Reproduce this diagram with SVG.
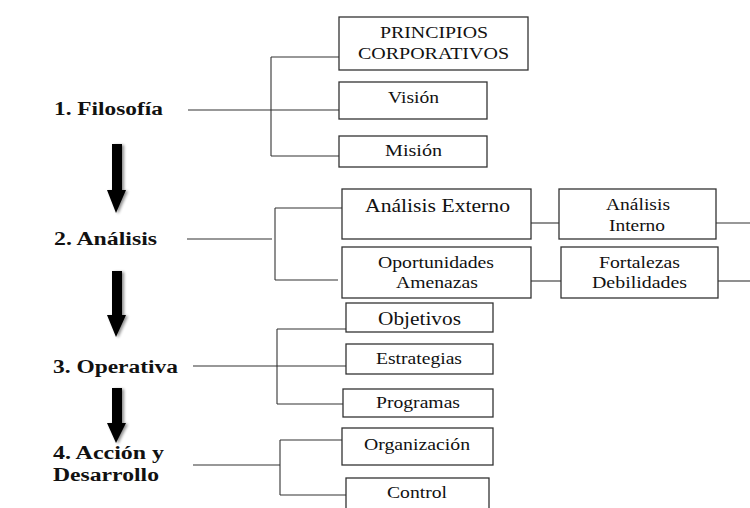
<svg xmlns="http://www.w3.org/2000/svg" width="750" height="508" viewBox="0 0 750 508">
<style>
text{fill:#111}
.lbl{font-weight:bold;font-size:18px}
.bx{font-size:16px}
.big{font-size:19px}
rect{fill:#fff;stroke:#333;stroke-width:1.3}
.con line{stroke:#333;stroke-width:1.1}
.arr{fill:#000}
</style>
<defs>
<filter id="sh" x="-50%" y="-20%" width="200%" height="150%">
<feGaussianBlur in="SourceAlpha" stdDeviation="1.5"/>
<feOffset dx="2" dy="1" result="b"/>
<feComponentTransfer><feFuncA type="linear" slope="0.45"/></feComponentTransfer>
<feMerge><feMergeNode/><feMergeNode in="SourceGraphic"/></feMerge>
</filter>
</defs>
<rect x="0" y="0" width="750" height="508" style="fill:#fff;stroke:none"/>

<g class="con" id="connectors">
<line x1="188" y1="110" x2="340" y2="110"/>
<line x1="271" y1="57" x2="271" y2="156"/>
<line x1="271" y1="57" x2="340" y2="57"/>
<line x1="271" y1="156" x2="340" y2="156"/>

<line x1="187" y1="239" x2="272" y2="239"/>
<line x1="275" y1="208" x2="275" y2="280"/>
<line x1="275" y1="208" x2="342" y2="208"/>
<line x1="275" y1="280" x2="338" y2="280"/>
<line x1="528" y1="223" x2="559" y2="223"/>
<line x1="716" y1="223" x2="750" y2="223"/>
<line x1="529" y1="281" x2="561" y2="281"/>
<line x1="718" y1="281" x2="750" y2="281"/>

<line x1="193" y1="366" x2="346" y2="366"/>
<line x1="277" y1="329" x2="277" y2="404"/>
<line x1="277" y1="329" x2="346" y2="329"/>
<line x1="277" y1="404" x2="343" y2="404"/>

<line x1="193" y1="465" x2="280" y2="465"/>
<line x1="280" y1="440" x2="280" y2="495"/>
<line x1="280" y1="440" x2="342" y2="440"/>
<line x1="280" y1="495" x2="346" y2="495"/>
</g>

<g id="arrows" class="arr" filter="url(#sh)">
<polygon points="112,144 122,144 122,190 126,190 116,213 107,190 112,190"/>
<polygon points="112,271 122,271 122,315 126,315 116,337 107,315 112,315"/>
<polygon points="112,388 122,388 122,423 126,423 116,443 107,423 112,423"/>
</g>

<g font-family="'Liberation Serif', 'Times New Roman', serif">
<g id="filosofia"><text class="lbl" x="54" y="115" textLength="109" lengthAdjust="spacingAndGlyphs">1. Filosofía</text></g>
<g id="analisis"><text class="lbl" x="54" y="245" textLength="103" lengthAdjust="spacingAndGlyphs">2. Análisis</text></g>
<g id="operativa"><text class="lbl" x="53" y="373" textLength="125" lengthAdjust="spacingAndGlyphs">3. Operativa</text></g>
<g id="accion"><text class="lbl" x="53" y="459" textLength="111" lengthAdjust="spacingAndGlyphs">4. Acción y</text><text class="lbl" x="53" y="481" textLength="106" lengthAdjust="spacingAndGlyphs">Desarrollo</text></g>

<g id="principios"><rect x="339" y="17" width="189" height="53"/>
<text class="bx" x="380" y="38" textLength="108" lengthAdjust="spacingAndGlyphs">PRINCIPIOS</text>
<text class="bx" x="358" y="59" textLength="151" lengthAdjust="spacingAndGlyphs">CORPORATIVOS</text></g>
<g id="vision"><rect x="339" y="82" width="148" height="37"/>
<text class="bx" x="388" y="103" textLength="51" lengthAdjust="spacingAndGlyphs">Visión</text></g>
<g id="mision"><rect x="339" y="136" width="148" height="31"/>
<text class="bx" x="385" y="156" textLength="57" lengthAdjust="spacingAndGlyphs">Misión</text></g>

<g id="externo"><rect x="342" y="189" width="189" height="50"/>
<text class="big" x="365" y="212" textLength="145" lengthAdjust="spacingAndGlyphs">Análisis Externo</text></g>
<g id="interno"><rect x="559" y="189" width="157" height="50"/>
<text class="bx" x="606" y="210" textLength="64" lengthAdjust="spacingAndGlyphs">Análisis</text>
<text class="bx" x="609" y="231" textLength="56" lengthAdjust="spacingAndGlyphs">Interno</text></g>
<g id="oportunidades"><rect x="342" y="247" width="189" height="51"/>
<text class="bx" x="378" y="268" textLength="116" lengthAdjust="spacingAndGlyphs">Oportunidades</text>
<text class="bx" x="396" y="288" textLength="82" lengthAdjust="spacingAndGlyphs">Amenazas</text></g>
<g id="fortalezas"><rect x="561" y="247" width="157" height="51"/>
<text class="bx" x="599" y="268" textLength="81" lengthAdjust="spacingAndGlyphs">Fortalezas</text>
<text class="bx" x="592" y="288" textLength="95" lengthAdjust="spacingAndGlyphs">Debilidades</text></g>

<g id="objetivos"><rect x="346" y="303" width="147" height="29"/>
<text class="big" x="378" y="325" textLength="83" lengthAdjust="spacingAndGlyphs">Objetivos</text></g>
<g id="estrategias"><rect x="346" y="344" width="147" height="30"/>
<text class="bx" x="376" y="364" textLength="86" lengthAdjust="spacingAndGlyphs">Estrategias</text></g>
<g id="programas"><rect x="343" y="389" width="150" height="28"/>
<text class="bx" x="376" y="408" textLength="84" lengthAdjust="spacingAndGlyphs">Programas</text></g>
<g id="organizacion"><rect x="342" y="428" width="151" height="37"/>
<text class="bx" x="364" y="450" textLength="106" lengthAdjust="spacingAndGlyphs">Organización</text></g>
<g id="control"><rect x="346" y="478" width="143" height="40"/>
<text class="bx" x="387" y="498" textLength="60" lengthAdjust="spacingAndGlyphs">Control</text></g>
</g>
</svg>
